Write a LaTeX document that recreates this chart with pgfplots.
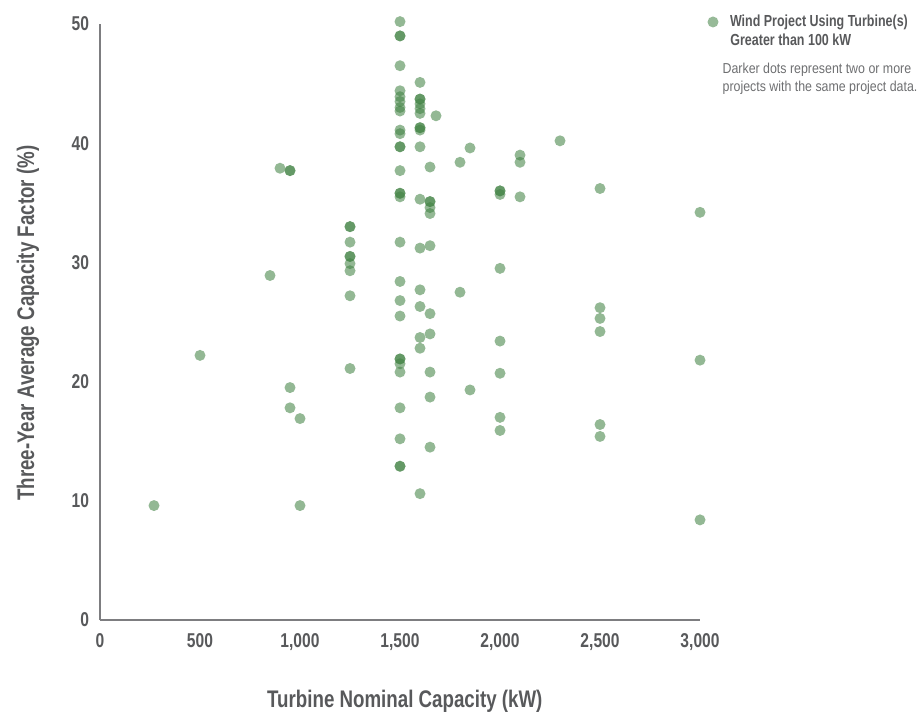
\documentclass[border=0pt]{standalone}
\usepackage{fontspec}
\setmainfont{Liberation Sans}[FakeStretch=0.78]
\newfontfamily\notefont{Liberation Sans}[FakeStretch=0.86]
\usepackage{pgfplots}
\pgfplotsset{compat=1.18}
\definecolor{dotgreen}{RGB}{65,130,67}
\definecolor{txtgray}{RGB}{88,89,91}
\definecolor{notegray}{RGB}{110,111,113}
\definecolor{axgray}{RGB}{125,125,128}

\pgfplotstableread{
x y
270 9.6
500 22.2
850 28.9
900 37.9
950 37.7
950 37.7
950 19.5
950 17.8
1000 16.9
1000 9.6
1250 33.0
1250 33.0
1250 31.7
1250 30.5
1250 30.5
1250 29.9
1250 29.3
1250 27.2
1250 21.1
1500 50.2
1500 49.0
1500 49.0
1500 46.5
1500 44.4
1500 43.9
1500 43.5
1500 43.0
1500 42.7
1500 41.1
1500 40.8
1500 39.7
1500 39.7
1500 37.7
1500 35.8
1500 35.8
1500 35.5
1500 31.7
1500 28.4
1500 26.8
1500 25.5
1500 21.9
1500 21.9
1500 21.5
1500 20.8
1500 17.8
1500 15.2
1500 12.9
1500 12.9
1600 45.1
1600 43.7
1600 43.7
1600 43.3
1600 42.9
1600 42.5
1600 41.3
1600 41.3
1600 41.1
1600 39.7
1600 35.3
1600 31.2
1600 27.7
1600 26.3
1600 23.7
1600 22.8
1600 10.6
1650 38.0
1650 35.1
1650 35.1
1650 34.6
1650 34.1
1650 31.4
1650 25.7
1650 24.0
1650 20.8
1650 18.7
1650 14.5
1680 42.3
1800 38.4
1800 27.5
1850 39.6
1850 19.3
2000 36.0
2000 36.0
2000 35.7
2000 29.5
2000 23.4
2000 20.7
2000 17.0
2000 15.9
2100 39.0
2100 38.4
2100 35.5
2300 40.2
2500 36.2
2500 26.2
2500 25.3
2500 24.2
2500 16.4
2500 15.4
3000 34.2
3000 21.8
3000 8.4
}\windtable

\begin{document}
\begin{tikzpicture}
\useasboundingbox (-50pt,-46pt) rectangle (409.5pt,310pt);
\begin{axis}[
  at={(0,0)}, anchor=south west,
  scale only axis, width=300pt, height=298pt,
  xmin=0, xmax=3000, ymin=0, ymax=50,
  axis lines=left,
  axis line style={axgray, line width=1pt, -},
  xtick={0,500,...,3000}, ytick={0,10,...,50},
  major tick length=0pt,
  scaled x ticks=false,
  /pgf/number format/assume math mode=true,
  /pgf/number format/1000 sep={,},
  ticklabel style={font=\bfseries\fontsize{10}{12}\selectfont, text=txtgray},
  xticklabel style={yshift=-3pt},
  yticklabel style={xshift=-2pt},
  xlabel={Turbine Nominal Capacity (kW)},
  ylabel={Three-Year Average Capacity Factor (\%)},
  label style={font=\bfseries\fontsize{12}{14}\selectfont, text=txtgray},
  xlabel style={at={(axis description cs:0.508,-0.136)}, anchor=center},
  ylabel style={at={(axis description cs:-0.12,0.498)}, anchor=center},
  clip=false,
  legend style={at={(axis description cs:1.0125,1.0034)}, anchor=west,
    draw=none, fill=none, inner sep=0pt, outer sep=0pt,
    font=\bfseries\fontsize{8}{9.5}\selectfont, text=txtgray,
    nodes={inner sep=0pt},
    /tikz/every even column/.append style={column sep=0pt}},
  legend cell align=left,
  legend image code/.code={\path[draw=none, fill=dotgreen, fill opacity=0.55] (2.75pt,0pt) circle (2.75pt);},
]
\addplot[only marks, mark=*, mark size=2.75pt, color=dotgreen,
  mark options={draw=dotgreen, draw opacity=0, fill=dotgreen, fill opacity=0.57, line width=0pt}]
  table[x=x, y=y] {\windtable};
\addlegendentry{\hspace{5.75pt}Wind Project Using Turbine(s)}
\node[anchor=west, inner sep=0pt, font=\bfseries\fontsize{8}{9.5}\selectfont, text=txtgray]
  at (axis description cs:1.05,0.973) {Greater than 100 kW};
\node[anchor=north west, inner sep=0pt, align=left, font=\notefont\fontsize{7.2}{9}\selectfont, text=notegray]
  at (axis description cs:1.037,0.935) {Darker dots represent two or more\\projects with the same project data.};
\end{axis}
\end{tikzpicture}
\end{document}
